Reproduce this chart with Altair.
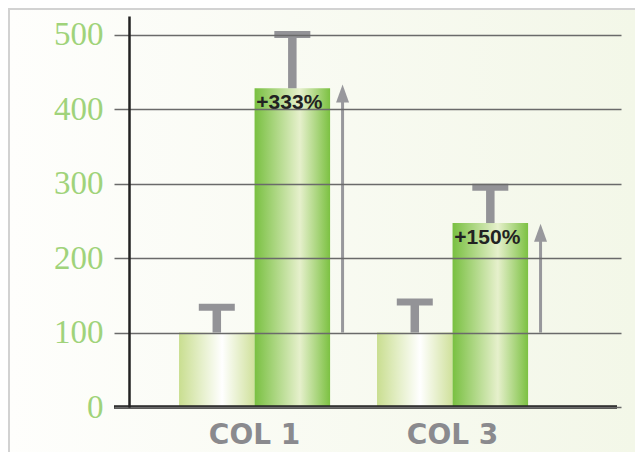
import altair as alt
import pandas as pd

groups = ["COL 1", "COL 3"]
series = ["base", "treated"]
base_values = [100, 100]
treated_values = [428, 247]
base_err = [134, 141]
treated_err = [500, 295]
arrow_tip = [433, 246]
arrow_start = [100, 100]
pct_labels = ["+333%", "+150%"]
y_ticks = [0, 100, 200, 300, 400, 500]

bars = pd.DataFrame({
    "group": groups * 2,
    "series": ["base"] * 2 + ["treated"] * 2,
    "value": base_values + treated_values,
    "err": base_err + treated_err,
})
ann = pd.DataFrame({
    "group": groups,
    "series": ["treated"] * 2,
    "top": treated_values,
    "tip": arrow_tip,
    "start": arrow_start,
    "label": pct_labels,
})

W, H = 492, 391
GRAY = "#939397"

xs = alt.Scale(domain=groups, paddingInner=0.237, paddingOuter=0.361, align=0.35)
xos = alt.Scale(domain=series, paddingInner=0, paddingOuter=0)
ys = alt.Scale(domain=[0, 525], nice=False)

x_enc = alt.X("group:N", scale=xs, sort=groups, title=None,
              axis=alt.Axis(labelAngle=0, domain=False, ticks=False, labelPadding=14,
                            labelFont="DejaVu Sans", labelFontWeight="bold",
                            labelFontSize=28, labelColor="#8a8a8e", zindex=1))
xo_enc = alt.XOffset("series:N", scale=xos, sort=series)
y_axis = alt.Axis(values=y_ticks, title=None, grid=True, gridColor="#6a6a6a", gridWidth=1.5,
                  tickSize=15, tickColor="#6a6a6a", tickWidth=1.5,
                  domainColor="#222222", domainWidth=2.5,
                  labelFont="Liberation Serif", labelFontSize=33, labelColor="#a0d37a",
                  labelPadding=11, zindex=1)

bg = alt.Chart(bars).mark_rect(
    color=alt.Gradient(gradient="linear", x1=0, x2=1, y1=0, y2=0,
                       stops=[alt.GradientStop(color="#fefefc", offset=0),
                              alt.GradientStop(color="#f3f7e8", offset=1)])
).encode(x=alt.value(-121), x2=alt.value(506), y=alt.value(-8), y2=alt.value(452))

border_top = alt.Chart(bars).mark_rule(color="#d2d2d2", strokeWidth=2).encode(
    x=alt.value(-121), x2=alt.value(506), y=alt.value(-7))
border_left = alt.Chart(bars).mark_rule(color="#d2d2d2", strokeWidth=2).encode(
    x=alt.value(-120), y=alt.value(-8), y2=alt.value(452))

pale_grad = alt.Gradient(gradient="linear", x1=0, x2=1, y1=0, y2=0,
                         stops=[alt.GradientStop(color="#c9de90", offset=0),
                                alt.GradientStop(color="#ffffff", offset=0.57),
                                alt.GradientStop(color="#d0e19c", offset=1)])
green_grad = alt.Gradient(gradient="linear", x1=0, x2=1, y1=0, y2=0,
                          stops=[alt.GradientStop(color="#79c041", offset=0),
                                 alt.GradientStop(color="#e6f0cc", offset=0.6),
                                 alt.GradientStop(color="#7cc142", offset=1)])

base_bars = alt.Chart(bars).transform_filter(alt.datum.series == "base").mark_bar(
    color=pale_grad).encode(
    x=x_enc, xOffset=xo_enc, y=alt.Y("value:Q", scale=ys, axis=y_axis))
green_bars = alt.Chart(bars).transform_filter(alt.datum.series == "treated").mark_bar(
    color=green_grad).encode(
    x=x_enc, xOffset=xo_enc, y=alt.Y("value:Q", scale=ys, axis=y_axis))

stems = alt.Chart(bars).mark_rule(color=GRAY, strokeWidth=8.5).encode(
    x=x_enc, xOffset=xo_enc, y=alt.Y("value:Q", scale=ys, axis=y_axis), y2="err:Q")
caps = alt.Chart(bars).mark_tick(color=GRAY, size=36, thickness=7, orient="horizontal",
                                 opacity=1).encode(
    x=x_enc, xOffset=xo_enc, y=alt.Y("err:Q", scale=ys, axis=y_axis))

shafts = alt.Chart(ann).mark_rule(color="#98989c", strokeWidth=3, xOffset=88,
                                  y2Offset=10).encode(
    x=x_enc, y=alt.Y("start:Q", scale=ys, axis=y_axis), y2="tip:Q")
heads = alt.Chart(ann).mark_point(shape="M0,0L0.36,1L-0.36,1Z", filled=True, size=1296,
                                  color="#98989c", opacity=1, strokeWidth=0,
                                  xOffset=88).encode(
    x=x_enc, y=alt.Y("tip:Q", scale=ys, axis=y_axis))

labels = alt.Chart(ann).mark_text(
    font="Liberation Sans", fontSize=21,
    fontWeight="bold", color="#222222", dx=-3, dy=15, baseline="middle").encode(
    x=x_enc, xOffset=xo_enc, y=alt.Y("top:Q", scale=ys, axis=y_axis), text="label:N")

zero_line = alt.Chart(ann).mark_rule(color="#222222", strokeWidth=3).encode(
    x=alt.value(-15), x2=alt.value(488), y=alt.datum(0, type="quantitative", scale=ys))

chart = alt.layer(
    bg, border_top, border_left, base_bars, green_bars, stems, caps,
    shafts, heads, labels, zero_line
).properties(
    width=W, height=H, autosize=alt.AutoSizeParams(type="none"),
    padding={"left": 121, "top": 8, "right": 14, "bottom": 45},
    background="#fafbf4"
).configure_view(stroke=None)

chart.save("out.html", embed_options={"renderer": "svg", "actions": False})
